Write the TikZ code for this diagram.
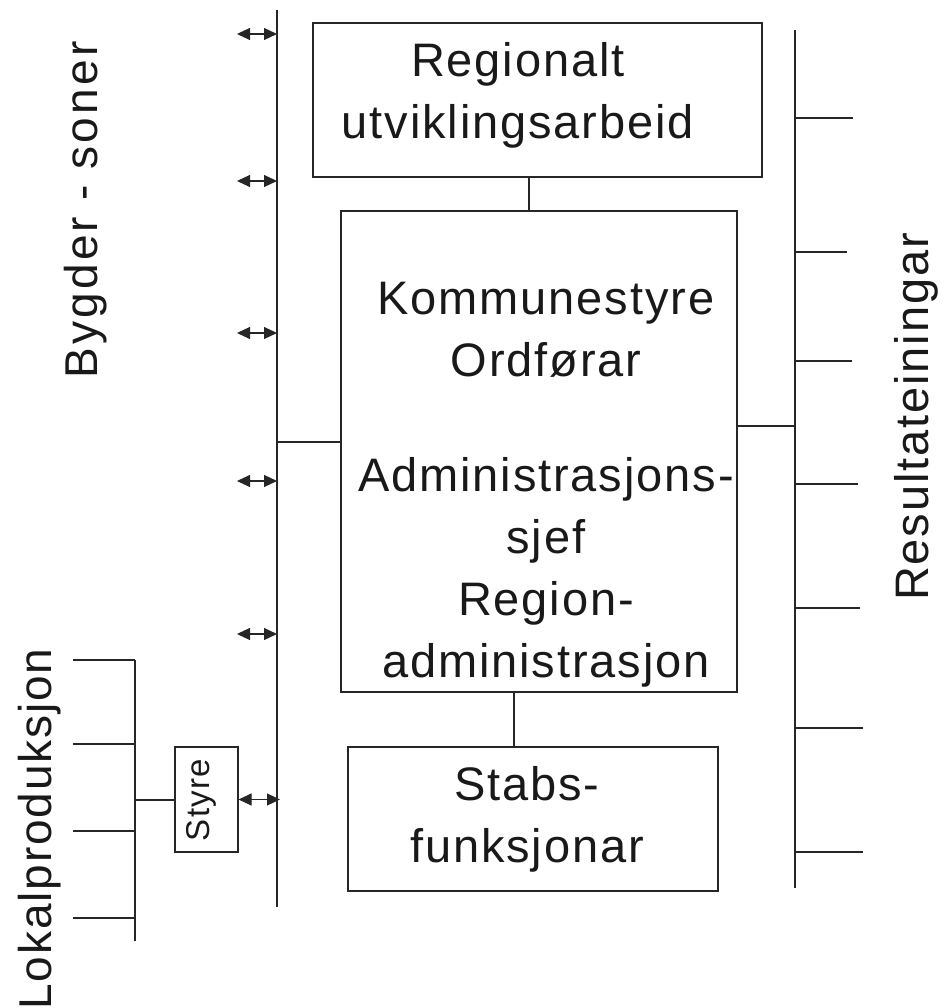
\documentclass[tikz,border=0pt]{standalone}
\usepackage{fontspec}
\setmainfont{Liberation Sans}
\newfontfamily\lsfont[LetterSpace=4]{Liberation Sans}
\newfontfamily\wsfont[LetterSpace=7]{Liberation Sans}
\usetikzlibrary{arrows.meta}
\begin{document}
\begin{tikzpicture}[x=1pt,y=-1pt,
  ln/.style={draw=black!85,line width=1.1pt},
  boxnode/.style={draw=black!85,line width=1.1pt,inner sep=0pt},
  lbl/.style={font=\lsfont\fontsize{47}{62}\selectfont,align=center,inner sep=0pt,text=black!90},
  side/.style={font=\lsfont\fontsize{47}{54}\selectfont,rotate=90,inner sep=0pt,text=black!90},
  dbl/.style={ln,{Triangle[length=13pt,width=12pt]}-{Triangle[length=13pt,width=12pt]}}
]
\useasboundingbox (0,0) rectangle (943,1008);

% boxes
\node[boxnode,minimum width=449pt,minimum height=154pt] (reg) at (537.5,100) {};
\node[boxnode,minimum width=396pt,minimum height=481pt] (kom) at (539,451.5) {};
\node[boxnode,minimum width=370pt,minimum height=144pt] (stab) at (533,819) {};
\node[boxnode,minimum width=63pt,minimum height=105pt] (sty) at (206.5,799.5) {};

% box texts
\node[lbl] (regT) at (518,95) {Regionalt\\utviklingsarbeid};
\node[lbl] (komT) at (546,485) {Kommunestyre\\Ordførar\\[53pt]Administrasjons-\\sjef\\Region-\\administrasjon};
\node[lbl] (stabT) at (527,819) {Stabs-\\funksjonar};
\node[side,font=\lsfont\fontsize{33}{40}\selectfont] (styT) at (201,800) {Styre};

% side labels
\node[side,font=\wsfont\fontsize{46}{54}\selectfont] (bygd) at (86,210) {Bygder - soner};
\node[side] (res) at (916,417) {Resultateiningar};
\node[side,font=\lsfont\fontsize{46}{54}\selectfont] (lok) at (40,829) {Lokalproduksjon};

% vertical lines
\coordinate (Ltop) at (277,10);
\coordinate (Lbot) at (277,907);
\coordinate (Rtop) at (795,30);
\coordinate (Rbot) at (795,888);
\coordinate (Ptop) at (135,660);
\coordinate (Pbot) at (135,941);
\draw[ln] (Ltop) -- (Lbot);
\draw[ln] (Rtop) -- (Rbot);
\draw[ln] (Ptop) -- (Pbot);

% connectors between boxes
\draw[ln] ([xshift=-8.5pt]reg.south) -- ([xshift=-8.5pt]reg.south |- kom.north);
\draw[ln] ([xshift=-25pt]kom.south) -- ([xshift=-25pt]kom.south |- stab.north);
\coordinate (jL) at (277,442);
\draw[ln] (jL) -- (jL -| kom.west);
\coordinate (jR) at (795,426);
\draw[ln] (kom.east |- jR) -- (jR);
\coordinate (jP) at (135,800);
\draw[ln] (jP) -- (jP -| sty.west);

% double arrows to the left line
\foreach \y [count=\i] in {34,181,333,481,634}{
  \coordinate (aw\i) at (237,\y);
  \draw[dbl] (aw\i) -- (aw\i -| Ltop);
}
\coordinate (asE) at (280,799.5);
\draw[dbl] (sty.east) -- (asE);

% right ticks
\foreach \y/\e [count=\i] in {118/853,252/847,361/852,484/858,608/860,728/863,852/863}{
  \coordinate (rt\i) at (\e,\y);
  \draw[ln] (rt\i -| Rtop) -- (rt\i);
}
% left ticks
\foreach \y [count=\i] in {660,744,831,918}{
  \coordinate (lt\i) at (73,\y);
  \draw[ln] (lt\i) -- (lt\i -| Ptop);
}
\end{tikzpicture}
\end{document}
